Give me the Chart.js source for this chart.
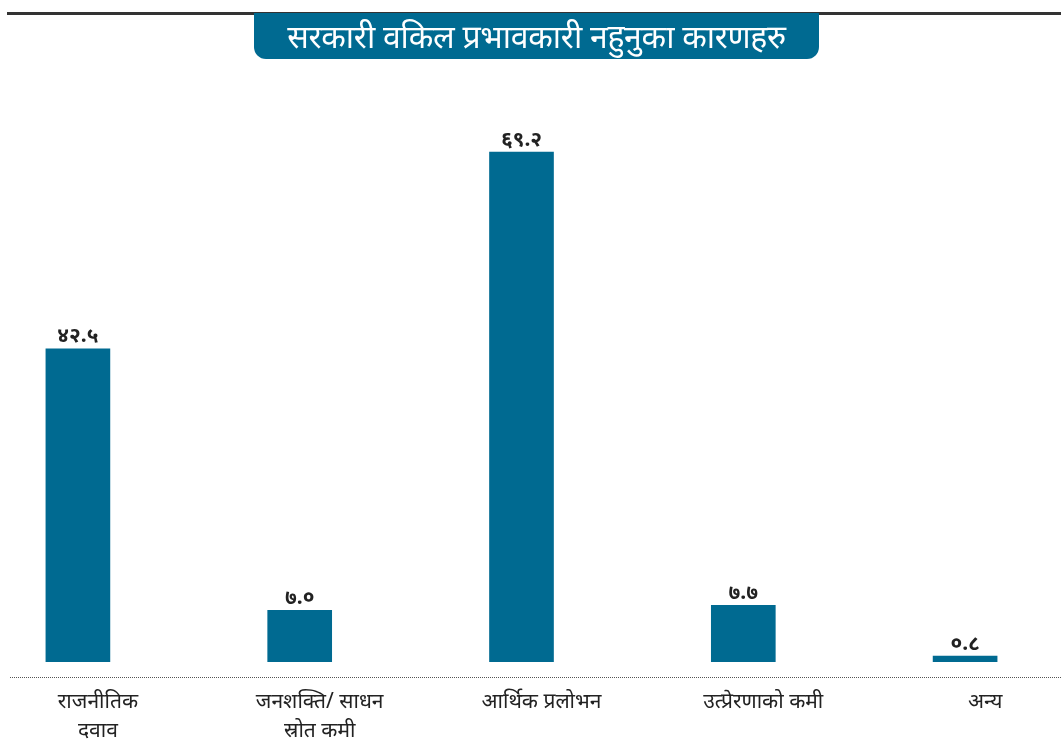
<!DOCTYPE html>
<html>
<head>
<meta charset="utf-8">
<script src="https://cdn.jsdelivr.net/npm/chart.js@4"></script>
<style>
  html, body { margin: 0; padding: 0; background: #fff; overflow: hidden; }
  body { width: 1061px; height: 751px; position: relative; }
  #topline { position: absolute; left: 7px; right: 0; top: 12px; height: 3px; background: #333; }
  #banner {
    position: absolute; left: 254px; top: 13px; width: 565px; height: 46px;
    background: #006a91; border-radius: 0 0 12px 12px; color: #fff;
    font-family: "Noto Sans", sans-serif; font-size: 32px; text-align: center; line-height: 46px;
    letter-spacing: -0.3px;
  }
  #dots { position: absolute; left: 10px; right: 0; top: 677px; border-top: 1px dotted #555; }
  #wrap { position: absolute; left: -33px; top: 0; width: 1109px; height: 751px; }
</style>
</head>
<body>
<div id="wrap"><canvas id="chart"></canvas></div>
<div id="topline"></div>
<div id="banner">सरकारी वकिल प्रभावकारी नहुनुका कारणहरु</div>
<div id="dots"></div>
<script>
const categories = [
  ['राजनीतिक', 'दवाव'],
  ['जनशक्ति/ साधन', 'स्रोत कमी'],
  'आर्थिक प्रलोभन',
  'उत्प्रेरणाको कमी',
  'अन्य'
];
const values = [42.5, 7.0, 69.2, 7.7, 0.8];

const devDigits = ['०', '१', '२', '३', '४', '५', '६', '७', '८', '९'];
function toDevanagari(n) {
  return n.toFixed(1).replace(/[0-9]/g, d => devDigits[+d]);
}

const valueLabels = {
  id: 'valueLabels',
  afterDatasetsDraw(chart) {
    const ctx = chart.ctx;
    const meta = chart.getDatasetMeta(0);
    ctx.save();
    ctx.fillStyle = '#222';
    ctx.font = 'bold 21px "Noto Sans", sans-serif';
    ctx.textAlign = 'center';
    ctx.textBaseline = 'bottom';
    meta.data.forEach((bar, i) => {
      ctx.fillText(toDevanagari(values[i]), bar.x, bar.y - 2);
    });
    ctx.restore();
  }
};

const ctx = document.getElementById('chart').getContext('2d');
new Chart(ctx, {
  type: 'bar',
  data: {
    labels: categories,
    datasets: [{
      data: values,
      backgroundColor: '#006a91',
      barThickness: 64
    }]
  },
  options: {
    responsive: true,
    maintainAspectRatio: false,
    animation: false,
    layout: { padding: { top: 80, left: 0, right: 0, bottom: 0 } },
    plugins: { legend: { display: false }, tooltip: { enabled: false } },
    scales: {
      x: {
        grid: { display: false },
        border: { display: false },
        ticks: {
          color: '#222',
          font: { family: '"Noto Sans", sans-serif', size: 21, lineHeight: 1.35 },
          padding: 18,
          labelOffset: 20,
          maxRotation: 0,
          autoSkip: false
        },
        afterFit: s => { s.height = 89; }
      },
      y: {
        display: false,
        min: 0,
        max: 79
      }
    }
  },
  plugins: [valueLabels]
});
</script>
</body>
</html>
